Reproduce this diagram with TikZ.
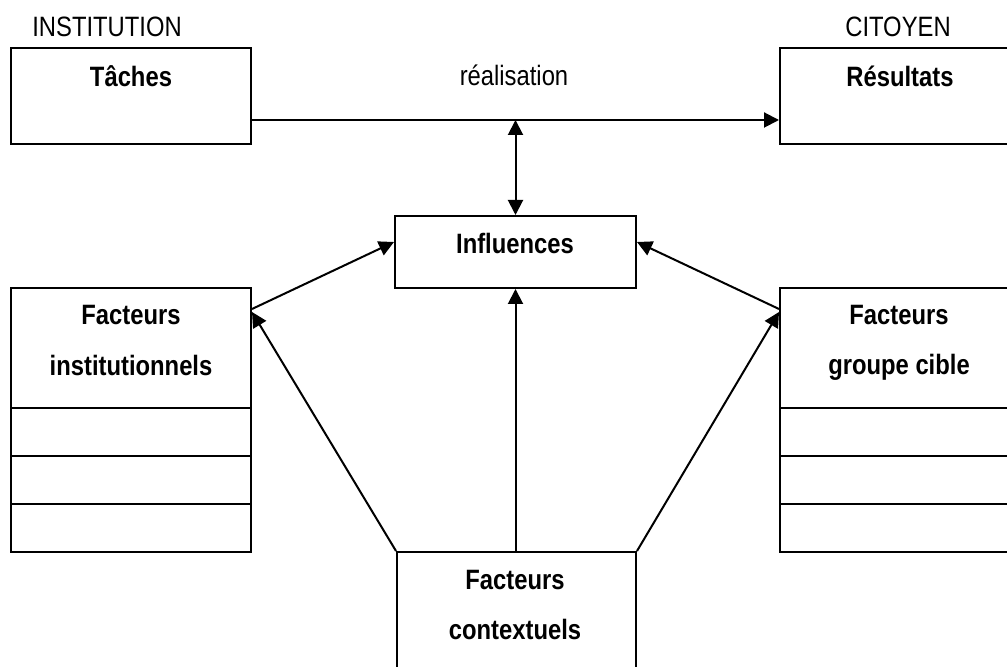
\documentclass[tikz,border=0pt]{standalone}
\usepackage{fontspec}
\setmainfont{Liberation Sans}
\usetikzlibrary{arrows.meta}
\tikzset{
  box/.style={draw, line width=1pt, inner sep=0pt},
  txt/.style={inner sep=0pt, anchor=base, transform shape, xscale=0.85, font=\fontsize{14}{17}\selectfont},
  btxt/.style={txt, font=\fontsize{14}{17}\selectfont\bfseries},
  arr/.style={line width=1pt, -{Triangle[length=7.5pt,width=7.5pt]}}
}
\begin{document}
\begin{tikzpicture}[x=0.5pt, y=-0.5pt, line join=miter]
 \useasboundingbox (0,0) rectangle (1007,667);
 % boxes
 \node[box, minimum width=120pt, minimum height=48pt] (taches) at (131,96) {};
 \node[box, minimum width=115pt, minimum height=48pt] (result) at (895,96) {};
 \node[box, minimum width=120.5pt, minimum height=36pt] (infl) at (515.5,252) {};
 \node[box, minimum width=120pt, minimum height=132pt] (finst) at (131,420) {};
 \node[box, minimum width=115pt, minimum height=132pt] (fcible) at (895,420) {};
 \node[box, minimum width=119.5pt, minimum height=69pt] (fctx) at (516.5,621) {};
 \foreach \y in {408,456,504}{
   \draw[line width=1pt] (finst.west |- 0,\y) -- (finst.east |- 0,\y);
   \draw[line width=1pt] (fcible.west |- 0,\y) -- (fcible.east |- 0,\y);
 }
 % texts
 \node[txt, anchor=base west] (inst) at (32,37) {INSTITUTION};
 \node[txt] (cit) at (898,37) {CITOYEN};
 \node[btxt] (tachesT) at (131,87) {Tâches};
 \node[btxt] (resultT) at (900,87) {Résultats};
 \node[txt] (realis) at (514,86) {réalisation};
 \node[btxt] (inflT) at (515,254) {Influences};
 \node[btxt] (finstA) at (131,325) {Facteurs};
 \node[btxt] (finstB) at (131,376) {institutionnels};
 \node[btxt] (fcibleA) at (899,325) {Facteurs};
 \node[btxt] (fcibleB) at (899,375) {groupe cible};
 \node[btxt] (fctxA) at (515,590) {Facteurs};
 \node[btxt] (fctxB) at (515,640) {contextuels};
 % connectors
 \coordinate (rea) at (515.5,120);
 \draw[arr] ([yshift=-12pt]taches.east) -- ([yshift=-12pt]result.west);
 \draw[arr, {Triangle[length=7.5pt,width=7.5pt]}-{Triangle[length=7.5pt,width=7.5pt]}] (rea) -- (infl.north);
 \draw[arr] (fctx.north -| infl.south) -- (infl.south);
 \draw[arr] ([yshift=-11pt]finst.north east) -- ([yshift=5pt]infl.west);
 \draw[arr] ([yshift=-11pt]fcible.north west) -- ([yshift=5pt]infl.east);
 \draw[arr] (fctx.north west) -- ([yshift=-12.5pt]finst.north east);
 \draw[arr] (fctx.north east) -- ([yshift=-12.5pt]fcible.north west);
\end{tikzpicture}
\end{document}
